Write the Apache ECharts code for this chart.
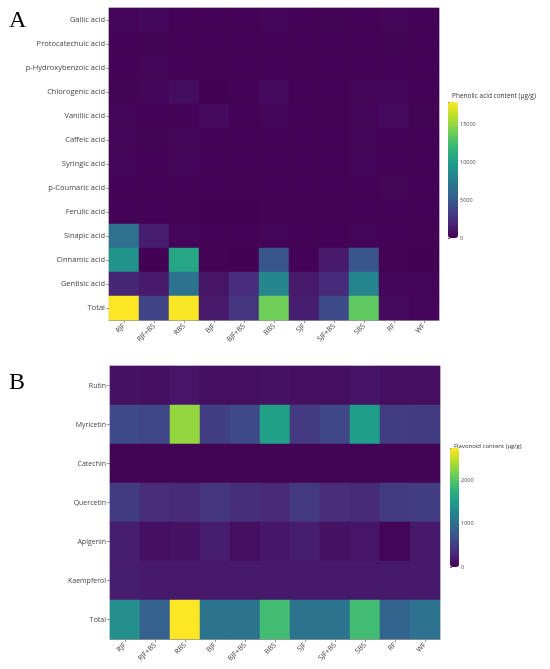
<!DOCTYPE html>
<html>
<head>
	<meta charset="utf-8">
	<title>Phenolic acid and flavonoid heatmaps</title>
	<script src="https://cdn.jsdelivr.net/npm/echarts@6/dist/echarts.min.js"></script>
	<style>
	  html, body{
		margin: 0;
		padding: 0;
		background: #fff;
	  }
	  #chart{
		width: 550px;
		height: 669px;
	  }
	</style>
</head>
<body>
<div id="chart"></div>
<script>
	// samples on the x axis (both panels)
	var samples = ['RJF', 'RJF+BS', 'RBS', 'BJF', 'BJF+BS', 'BBS', 'SJF', 'SJF+BS', 'SBS', 'RF', 'WF'];

	// panel A, phenolic acids (ug/g), one array per row, top to bottom
	var phenolicNames = ['Gallic acid', 'Protocatechuic acid', 'p-Hydroxybenzoic acid', 'Chlorogenic acid',
		'Vanillic acid', 'Caffeic acid', 'Syringic acid', 'p-Coumaric acid', 'Ferulic acid',
		'Sinapic acid', 'Cinnamic acid', 'Gentisic acid', 'Total'];
	var gallic         = [150, 420, 120, 100, 120, 150, 110, 130, 120, 140, 100];
	var protocatechuic = [120, 130, 100, 90, 100, 110, 90, 100, 120, 130, 100];
	var pHydroxy       = [110, 140, 90, 80, 90, 100, 80, 90, 100, 110, 90];
	var chlorogenic    = [130, 150, 600, 60, 120, 500, 100, 120, 150, 200, 120];
	var vanillic       = [140, 110, 90, 480, 100, 160, 90, 80, 140, 480, 130];
	var caffeic        = [150, 130, 160, 100, 90, 120, 100, 90, 160, 120, 100];
	var syringic       = [160, 120, 160, 90, 100, 100, 90, 90, 160, 110, 100];
	var pCoumaric      = [120, 110, 100, 90, 80, 90, 90, 90, 110, 180, 100];
	var ferulic        = [100, 90, 80, 70, 70, 80, 80, 80, 90, 100, 90];
	var sinapic        = [6600, 1500, 200, 100, 100, 150, 100, 100, 150, 100, 80];
	var cinnamic       = [9200, 50, 10600, 80, 60, 4700, 100, 1300, 4800, 80, 60];
	var gentisic       = [1900, 1300, 6800, 1000, 2300, 8300, 1300, 2200, 8200, 250, 150];
	var phenolicTotal  = [18000, 3700, 17900, 1300, 2700, 14000, 1500, 4100, 13500, 500, 250];
	var phenolicRows = [gallic, protocatechuic, pHydroxy, chlorogenic, vanillic, caffeic, syringic,
		pCoumaric, ferulic, sinapic, cinnamic, gentisic, phenolicTotal];
	var phenolicMax = 18000;
	var phenolicTicks = [0, 5000, 10000, 15000];

	// panel B, flavonoids (ug/g)
	var flavonoidNames = ['Rutin', 'Myricetin', 'Catechin', 'Quercetin', 'Apigenin', 'Kaempferol', 'Total'];
	var rutin          = [140, 120, 160, 110, 110, 140, 110, 110, 150, 100, 100];
	var myricetin      = [620, 580, 2300, 520, 610, 1550, 470, 590, 1530, 500, 480];
	var catechin       = [20, 20, 20, 20, 20, 20, 20, 20, 20, 20, 20];
	var quercetin      = [480, 350, 330, 430, 360, 320, 460, 350, 330, 480, 500];
	var apigenin       = [220, 120, 130, 230, 110, 170, 230, 140, 160, 30, 190];
	var kaempferol     = [230, 190, 190, 190, 190, 190, 190, 190, 190, 190, 190];
	var flavonoidTotal = [1350, 850, 2750, 1050, 1050, 1900, 1050, 1050, 1900, 880, 1030];
	var flavonoidRows = [rutin, myricetin, catechin, quercetin, apigenin, kaempferol, flavonoidTotal];
	var flavonoidMax = 2750;
	var flavonoidTicks = [0, 1000, 2000];

	var viridis = ['#440154', '#482878', '#3e4989', '#31688e', '#26828e',
		'#1f9e89', '#35b779', '#6ece58', '#b5de2b', '#fde725'];

	function toCells(rows){
		var out = [];
		for(var r = 0; r < rows.length; r++){
			for(var c = 0; c < rows[r].length; c++){
				out.push([c, r, rows[r][c]]);
			}
		}
		return out;
	}

	var font = "'Open Sans', 'DejaVu Sans', sans-serif";
	var txt = '#444';

	function catX(idx){
		return {
			type: 'category', gridIndex: idx, data: samples,
			axisLine: {show: true, lineStyle: {color: '#999', width: 1}},
			axisTick: {show: true, alignWithLabel: true, length: 3, lineStyle: {color: '#999'}},
			axisLabel: {rotate: 45, fontSize: 7, color: txt, fontFamily: font, margin: 5, interval: 0},
			splitLine: {show: false},
			splitArea: {show: false}
		};
	}
	function catY(idx, names, fs){
		return {
			type: 'category', gridIndex: idx, data: names, inverse: true,
			axisLine: {show: true, lineStyle: {color: '#999', width: 1}},
			axisTick: {show: true, alignWithLabel: true, length: 3, lineStyle: {color: '#999'}},
			axisLabel: {fontSize: fs, color: txt, fontFamily: font, margin: 4, interval: 0},
			splitLine: {show: false},
			splitArea: {show: false}
		};
	}
	// colorbar tick axis sits right on the visualMap bar
	function barY(idx, max, ticks){
		return {
			type: 'value', gridIndex: idx, min: 0, max: max, interval: ticks[1] - ticks[0],
			position: 'right',
			axisLine: {show: false},
			axisTick: {show: true, length: 2, inside: false, lineStyle: {color: '#666'}},
			splitLine: {show: false},
			axisLabel: {fontSize: 5.5, color: txt, fontFamily: font, margin: 2,
				formatter: function(v){ return ticks.indexOf(v) >= 0 ? String(v) : ''; }}
		};
	}
	function barX(idx){
		return {type: 'value', gridIndex: idx, show: false, min: 0, max: 1};
	}

	var option = {
		animation: false,
		backgroundColor: '#fff',
		title: [
			{text: 'A', left: 4, top: 4, textStyle: {fontFamily: 'Liberation Serif, serif', fontSize: 24, fontWeight: 'normal', color: '#000'}},
			{text: 'B', left: 4, top: 366, textStyle: {fontFamily: 'Liberation Serif, serif', fontSize: 24, fontWeight: 'normal', color: '#000'}},
			{text: 'Phenolic acid content (\u03bcg/g)', left: 447, top: 88, textStyle: {fontFamily: font, fontSize: 6.5, fontWeight: 'normal', color: '#333'}},
			{text: 'Flavonoid content (\u03bcg/g)', left: 449, top: 438, textStyle: {fontFamily: font, fontSize: 6, fontWeight: 'normal', color: '#333'}}
		],
		// whole-pixel cell sizes so the heatmap has no seams
		grid: [
			{left: 109, top: 8, width: 330, height: 312, show: true, borderColor: '#ccc', borderWidth: 1},
			{left: 110, top: 366, width: 330, height: 273, show: true, borderColor: '#ccc', borderWidth: 1},
			{left: 448, top: 102, width: 10, height: 136},
			{left: 450, top: 448, width: 9, height: 119}
		],
		xAxis: [catX(0), catX(1), barX(2), barX(3)],
		yAxis: [catY(0, phenolicNames, 7.5), catY(1, flavonoidNames, 7), barY(2, phenolicMax, phenolicTicks), barY(3, flavonoidMax, flavonoidTicks)],
		visualMap: [
			{
				type: 'continuous', seriesIndex: 0, min: 0, max: phenolicMax,
				calculable: false, orient: 'vertical', left: 448, top: 102,
				itemWidth: 10, itemHeight: 136, text: ['', ''], showLabel: false, padding: 0,
				inRange: {color: viridis}
			},
			{
				type: 'continuous', seriesIndex: 1, min: 0, max: flavonoidMax,
				calculable: false, orient: 'vertical', left: 450, top: 448,
				itemWidth: 9, itemHeight: 119, text: ['', ''], showLabel: false, padding: 0,
				inRange: {color: viridis}
			}
		],
		series: [
			{
				name: 'Phenolic acid', type: 'heatmap', xAxisIndex: 0, yAxisIndex: 0,
				data: toCells(phenolicRows),
				itemStyle: {borderWidth: 0},
				emphasis: {disabled: true}
			},
			{
				name: 'Flavonoid', type: 'heatmap', xAxisIndex: 1, yAxisIndex: 1,
				data: toCells(flavonoidRows),
				itemStyle: {borderWidth: 0},
				emphasis: {disabled: true}
			}
		]
	};

	var myChart = echarts.init(document.getElementById('chart'), null, {renderer: 'canvas'});
	myChart.setOption(option);
</script>
</body>
</html>
